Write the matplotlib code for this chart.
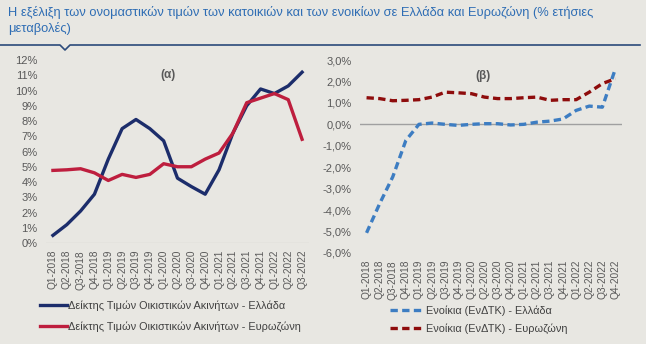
import numpy as np
import matplotlib
matplotlib.use("Agg")
from matplotlib import pyplot as plt
from matplotlib.lines import Line2D
from matplotlib.ticker import FuncFormatter

plt.rcParams['font.family'] = ['Liberation Sans', 'DejaVu Sans']

# (α) house price indices, % y/y
quarters_a = ['Q1-2018', 'Q2-2018', 'Q3-2018', 'Q4-2018', 'Q1-2019', 'Q2-2019', 'Q3-2019',
              'Q4-2019', 'Q1-2020', 'Q2-2020', 'Q3-2020', 'Q4-2020', 'Q1-2021', 'Q2-2021',
              'Q3-2021', 'Q4-2021', 'Q1-2022', 'Q2-2022', 'Q3-2022']
hpi_greece = [0.5, 1.2, 2.1, 3.2, 5.5, 7.5, 8.1, 7.5, 6.7, 4.25, 3.7, 3.2, 4.8, 7.2, 9.0,
              10.1, 9.8, 10.3, 11.2]
hpi_euro = [4.76, 4.8, 4.87, 4.6, 4.1, 4.5, 4.3, 4.5, 5.2, 5.0, 5.0, 5.5, 5.9, 7.2, 9.2,
            9.5, 9.8, 9.4, 6.8]

# (β) rents (HICP), % y/y
quarters_b = quarters_a + ['Q4-2022']
rent_greece = [-5.06, -3.7, -2.45, -0.75, 0.0, 0.06, 0.0, -0.05, 0.0, 0.03, 0.03, -0.03,
               0.0, 0.1, 0.15, 0.25, 0.65, 0.85, 0.8, 2.6]
rent_euro = [1.24, 1.2, 1.1, 1.12, 1.15, 1.27, 1.5, 1.47, 1.43, 1.27, 1.2, 1.2, 1.24, 1.27,
             1.12, 1.15, 1.15, 1.5, 1.9, 2.13]

bg = '#E8E7E2'
grey = '#595959'
W, H = 646, 344

fig = plt.figure(figsize=(6.46, 3.44), dpi=100, facecolor=bg)

fig.text(8 / W, 1 - 6 / H, 'Η εξέλιξη των ονομαστικών τιμών των κατοικιών και των ενοικίων σε Ελλάδα και Ευρωζώνη (% ετήσιες\nμεταβολές)',
         ha='left', va='top', fontsize=9.3, color='#2E6DB4', linespacing=1.3)

# title rule with small notch
line_y = 1 - 45 / H
fig.add_artist(Line2D([0, 60 / W, 65 / W, 70 / W, 640 / W],
                      [line_y, line_y, line_y - 5 / H, line_y, line_y],
                      color='#2B4A7A', lw=1.2, transform=fig.transFigure))


def pct0(v, _):
    return f'{v:.0f}%'


def pct1(v, _):
    return f'{v:.1f}%'.replace('.', ',')


def setup(ax, labels, ymin, ymax, step, fmt):
    ax.set_facecolor(bg)
    for s in ax.spines.values():
        s.set_visible(False)
    ax.set_xlim(-0.5, len(labels) - 0.5)
    ax.set_ylim(ymin, ymax)
    ax.set_yticks(np.arange(ymin, ymax + step / 2, step))
    ax.yaxis.set_major_formatter(FuncFormatter(fmt))
    ax.set_xticks(range(len(labels)))
    ax.set_xticklabels(labels, rotation=90, fontsize=7.3, color=grey)
    ax.tick_params(axis='y', labelsize=8, labelcolor=grey, length=0, pad=6)
    ax.tick_params(axis='x', length=0, pad=5)


# panel (α)
ax1 = fig.add_axes([46 / W, 1 - 243 / H, 263 / W, 183 / H])
setup(ax1, quarters_a, 0, 12, 1, pct0)
ax1.axhline(0, color='#D4D3CE', lw=1)
x1 = np.arange(len(quarters_a))
ax1.plot(x1, hpi_greece, color='#1C2D6B', lw=2.4, solid_joinstyle='round',
         label='Δείκτης Τιμών Οικιστικών Ακινήτων - Ελλάδα')
ax1.plot(x1, hpi_euro, color='#BE1E3E', lw=2.4, solid_joinstyle='round',
         label='Δείκτης Τιμών Οικιστικών Ακινήτων - Ευρωζώνη')
ax1.text(0.465, 0.92, '(α)', transform=ax1.transAxes, ha='center', va='center',
         fontsize=8.5, fontweight='bold', color=grey)
ax1.legend(loc='upper left', bbox_to_anchor=(36 / W, 1 - 296 / H), bbox_transform=fig.transFigure,
           frameon=False, fontsize=7.8, handlelength=2.5, handletextpad=0.1, labelspacing=1.0,
           labelcolor='#404040', borderaxespad=0)

# panel (β)
ax2 = fig.add_axes([360 / W, 1 - 253 / H, 262 / W, 193 / H])
setup(ax2, quarters_b, -6, 3, 1, pct1)
ax2.axhline(0, color='#A0A0A0', lw=1)
x2 = np.arange(len(quarters_b))
ax2.plot(x2, rent_greece, color='#3D7DC2', lw=2.4, ls=(0, (2.2, 1.3)),
         label='Ενοίκια (ΕνΔΤΚ) - Ελλάδα')
ax2.plot(x2, rent_euro, color='#8E0C0C', lw=2.4, ls=(0, (2.2, 1.3)),
         label='Ενοίκια (ΕνΔΤΚ) - Ευρωζώνη')
ax2.text(0.47, 0.915, '(β)', transform=ax2.transAxes, ha='center', va='center',
         fontsize=8.5, fontweight='bold', color=grey)
ax2.legend(loc='upper left', bbox_to_anchor=(386 / W, 1 - 301 / H), bbox_transform=fig.transFigure,
           frameon=False, fontsize=7.8, handlelength=3.0, handletextpad=0.3, labelspacing=0.7,
           labelcolor='#404040', borderaxespad=0)

fig.savefig('out.png', dpi=100, facecolor=bg)
